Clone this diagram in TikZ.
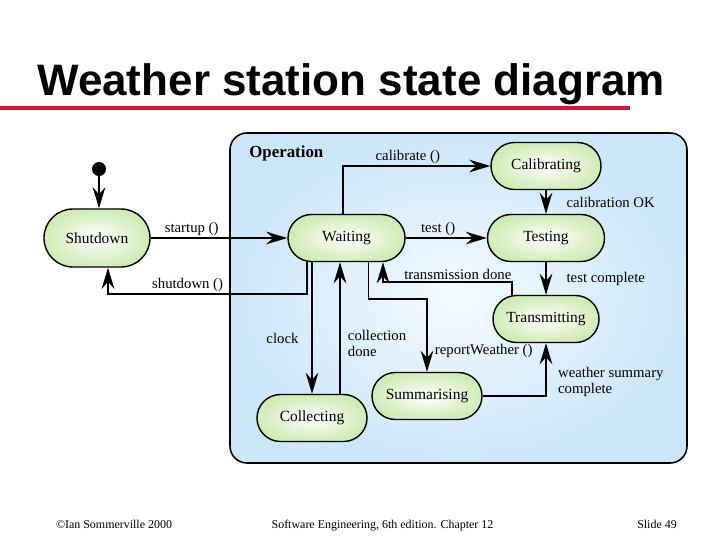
\documentclass[tikz,border=0pt]{standalone}
\usepackage{fontspec}
\setmainfont{Liberation Serif}
\newfontfamily\titlefont{Liberation Sans}
\usetikzlibrary{arrows.meta, positioning, calc, shapes.misc}

\definecolor{slidered}{RGB}{222,16,48}
\definecolor{opblue}{RGB}{204,231,250}
\definecolor{opwhite}{RGB}{244,250,255}
\definecolor{stategreen}{RGB}{208,236,182}

\begin{document}
\begin{tikzpicture}[
    x=0.025cm, y=-0.025cm,
    >={Stealth[length=15pt, width=9pt, inset=5pt]},
    % ---- styles ----
    state/.style = {draw, rounded rectangle, line width=1pt, minimum width=2.75cm, minimum height=1.175cm,
                    inner sep=0pt, inner color=white, outer color=stategreen, font=\fontsize{11}{13}\selectfont},
    trans/.style = {->, line width=1.3pt},
    lbl/.style = {font=\fontsize{10.5}{11.5}\selectfont, inner sep=1pt},
    foot/.style = {anchor=base, inner sep=0pt, font=\fontsize{8.5}{10}\selectfont},
    opbox/.style = {draw, line width=1.1pt, rounded corners=12pt, inner color=opwhite, outer color=opblue}
  ]
  \useasboundingbox (0,0) rectangle (720,540);

  % ===================== title =====================
  \node[anchor=base west, inner sep=0pt, font=\titlefont\bfseries\fontsize{31.3}{36}\selectfont] (title) at (37,95)
    {Weather station state diagram};
  \draw[slidered, line width=3.3pt] (0,108) -- (630,108);

  % ===================== Operation superstate =====================
  \draw[opbox] (230,133) rectangle (687,463);
  \node[anchor=west, inner sep=0pt, font=\fontsize{12}{14}\selectfont\bfseries] (optitle) at (249,153) {Operation};

  % ===================== states =====================
  \node[circle, fill, inner sep=0pt, minimum size=0.35cm] (start) at (99,169) {};
  \node[state, minimum width=2.65cm, minimum height=1.45cm] (shutdown) at (97,238) {Shutdown};
  \node[state, minimum width=2.925cm] (waiting) at (346.5,238) {Waiting};
  \node[state] (calib) at (546,166) {Calibrating};
  \node[state, minimum width=2.925cm] (testing) at (546,238) {Testing};
  \node[state, minimum width=2.65cm] (transmit) at (546,319) {Transmitting};
  \node[state] (summ) at (427,396) {Summarising};
  \node[state] (collect) at (312,418) {Collecting};

  % ---- free ends on the state borders ----
  \coordinate (sd) at ($(waiting.south)+(-39.5,0)$);
  \coordinate (cal) at ($(waiting.north)+(-3.5,0)$);
  \coordinate (cd) at ($(collect.north)+(28,0)$);
  \coordinate (td) at ($(transmit.north)+(-34,0)$);
  \coordinate (tw) at ($(waiting.south)+(36.5,0)$);
  \coordinate (rw) at ($(waiting.south)+(22,0)$);
  \coordinate (sdin) at ($(shutdown.south)+(11,0)$);

  % ===================== transitions =====================
  \draw[trans] (start) -- (start |- shutdown.north);
  \draw[trans] (shutdown) -- (waiting)
    node[pos=0.3, above, lbl] {startup ()};
  \draw[trans] (sd) -- ++(0,32) -| (sdin)
    node[pos=0.3, above, lbl] {shutdown ()};
  \draw[trans] (cal) |- (calib)
    node[pos=0.72, above, lbl] {calibrate ()};
  \draw[trans] (calib) -- (testing)
    node[midway, right=13pt, lbl] {calibration OK};
  \draw[trans] (waiting) -- (testing)
    node[pos=0.4, above, lbl] {test ()};
  \draw[trans] (testing) -- (transmit)
    node[midway, right=13pt, lbl] {test complete};
  \draw[trans] (td) -- ++(0,-13) -| (tw)
    node[pos=0.21, above, lbl] {transmission done};
  \draw[trans] (rw) -- ++(0,36.5) -| (summ.north)
    node[pos=0.86, right=4pt, lbl] {reportWeather ()};
  \draw[trans] (collect.north |- waiting.south) -- (collect.north)
    node[pos=0.58, left=8pt, lbl] {clock};
  \draw[trans] (cd) -- (cd |- waiting.south)
    node[pos=0.38, right=4pt, lbl, align=left] {collection\\done};
  \draw[trans] (summ.east) -| (transmit.south)
    node[pos=0.63, right=7pt, lbl, align=left] {weather summary\\complete};

  % ===================== footer =====================
  \node[foot] (copy) at (114,528) {©Ian Sommerville 2000};
  \node[foot] (book) at (382.5,528) {Software Engineering, 6th edition. Chapter 12};
  \node[foot] (slide) at (657,528) {Slide 49};
\end{tikzpicture}
\end{document}
